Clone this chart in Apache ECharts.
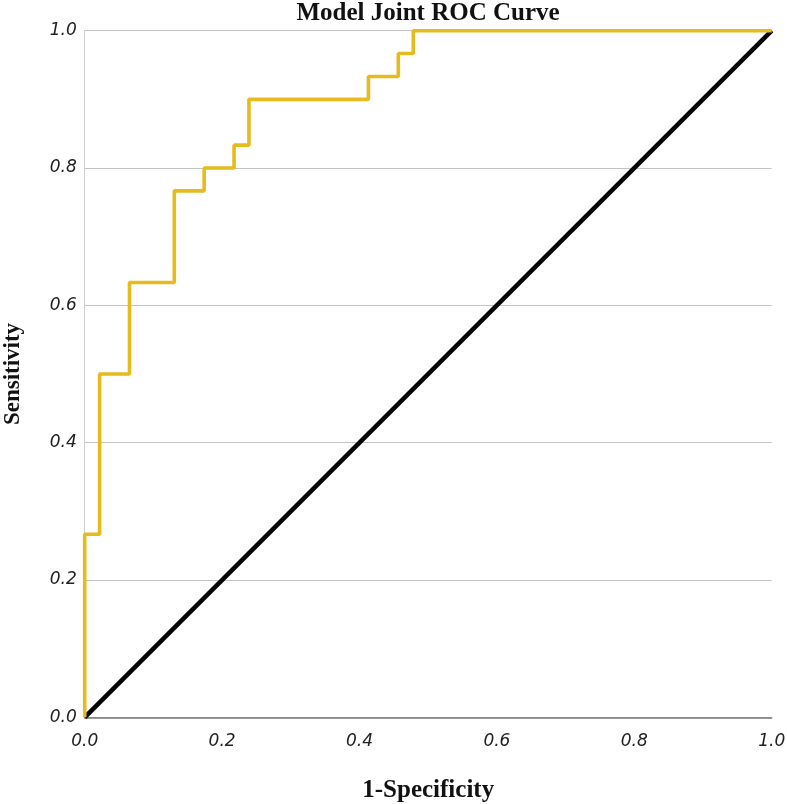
<!DOCTYPE html>
<html>
<head>
<meta charset="utf-8">
<script src="https://cdn.jsdelivr.net/npm/echarts@6/dist/echarts.min.js"></script>
<style>
html,body{margin:0;padding:0;background:#fff;}
#chart{width:787px;height:804px;}
</style>
</head>
<body>
<div id="chart"></div>
<script>
// ROC curve corner points (1-Specificity, Sensitivity)
var rocFpr = [0, 0, 0.0217, 0.0217, 0.0652, 0.0652, 0.1304, 0.1304, 0.1739, 0.1739, 0.2174, 0.2174, 0.2391, 0.2391, 0.4130, 0.4130, 0.4565, 0.4565, 0.4783, 0.4783, 1.0];
var rocTpr = [0, 0.2667, 0.2667, 0.5, 0.5, 0.6333, 0.6333, 0.7667, 0.7667, 0.8, 0.8, 0.8333, 0.8333, 0.9, 0.9, 0.9333, 0.9333, 0.9667, 0.9667, 1.0, 1.0];
var refX = [0, 1];
var refY = [0, 1];
var tickValues = [0, 0.2, 0.4, 0.6, 0.8, 1.0];

var chart = echarts.init(document.getElementById('chart'), null, {renderer: 'canvas'});
var tickFont = {fontFamily: 'DejaVu Sans', fontStyle: 'italic', fontSize: 17, color: '#222'};
var option = {
  animation: false,
  backgroundColor: '#fff',
  title: {
    text: 'Model Joint ROC Curve',
    left: 428, textAlign: 'center', top: 1, padding: 0,
    textStyle: {fontFamily: 'Liberation Serif', fontWeight: 'bold', fontSize: 25, color: '#111'}
  },
  grid: {left: 84.7, right: 15.3, top: 30.7, bottom: 86.7, containLabel: false, outerBoundsMode: 'none'},
  xAxis: {
    type: 'value', min: 0, max: 1, interval: 0.2,
    name: '1-Specificity', nameLocation: 'middle', nameGap: 61,
    nameTextStyle: {fontFamily: 'Liberation Serif', fontWeight: 'bold', fontSize: 25, color: '#111'},
    axisLine: {show: true, lineStyle: {color: '#777', width: 1.5}},
    axisTick: {show: false},
    splitLine: {show: false},
    axisLabel: Object.assign({margin: 16, formatter: function(v){return v.toFixed(1);}}, tickFont)
  },
  yAxis: {
    type: 'value', min: 0, max: 1, interval: 0.2,
    name: 'Sensitivity', nameLocation: 'middle', nameGap: 60,
    nameTextStyle: {fontFamily: 'Liberation Serif', fontWeight: 'bold', fontSize: 23, color: '#111'},
    axisLine: {show: true, lineStyle: {color: '#cfcfcf', width: 1}},
    axisTick: {show: false},
    splitLine: {show: true, lineStyle: {color: '#c4c4c4', width: 1}},
    axisLabel: Object.assign({margin: 8, formatter: function(v){return v.toFixed(1);}}, tickFont)
  },
  series: [
    {
      type: 'line', name: 'Reference',
      data: refX.map(function(x, i){return [x, refY[i]];}),
      symbol: 'none', z: 3,
      lineStyle: {color: '#000', width: 4.5}
    },
    {
      type: 'line', name: 'ROC',
      data: rocFpr.map(function(x, i){return [x, rocTpr[i]];}),
      symbol: 'none', z: 4,
      lineStyle: {color: '#E5BB1E', width: 3.6}
    }
  ]
};
chart.setOption(option);
</script>
</body>
</html>
